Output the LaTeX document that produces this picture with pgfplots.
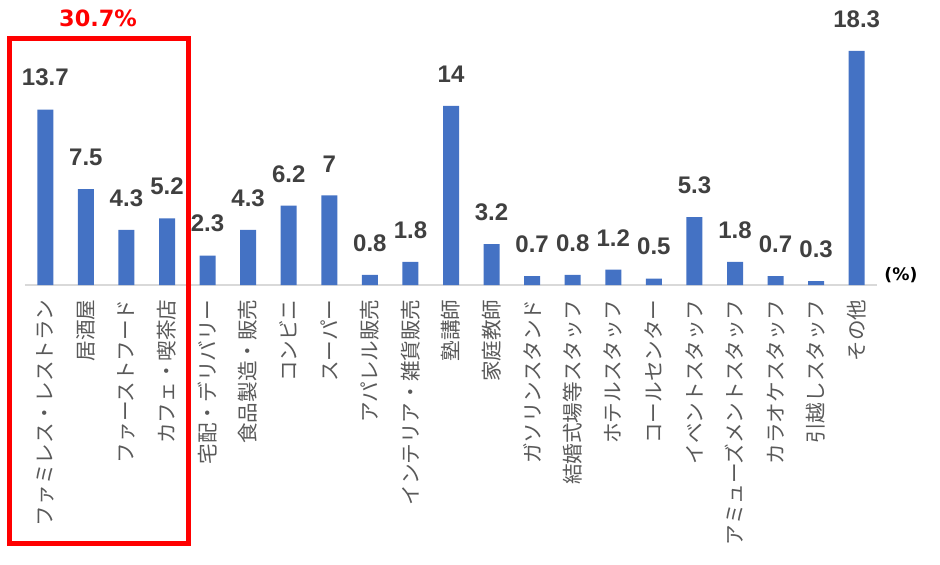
\documentclass[border=0pt]{standalone}
\usepackage{pgfplots}
\pgfplotsset{compat=1.18}
\usepackage{fontspec}
\setmainfont{Liberation Sans}
\newfontfamily\dvs{DejaVu Sans}
\newfontfamily\cjk{Noto Sans CJK JP}
\definecolor{barblue}{HTML}{4472C4}
\definecolor{valgray}{HTML}{404040}
\definecolor{labgray}{HTML}{595959}
\definecolor{linegray}{HTML}{D9D9D9}
\begin{document}
\begin{tikzpicture}
\begin{axis}[
  scale only axis,
  width=426pt, height=128pt,
  xmin=-0.5, xmax=20.5, ymin=0, ymax=20,
  axis x line*=bottom, axis y line=none,
  x axis line style={draw=linegray, line width=0.8pt, -},
  xtick=data, major tick length=0pt, ytick=\empty,
  xticklabels={
    ファミレス・レストラン, 居酒屋, ファーストフード, カフェ・喫茶店,
    宅配・デリバリー, 食品製造・販売, コンビニ, スーパー,
    アパレル販売, インテリア・雑貨販売, 塾講師, 家庭教師,
    ガソリンスタンド, 結婚式場等スタッフ, ホテルスタッフ, コールセンター,
    イベントスタッフ, アミューズメントスタッフ, カラオケスタッフ, 引越しスタッフ,
    その他},
  xticklabel style={rotate=90, anchor=east, inner xsep=7pt, inner ysep=0pt,
    font=\cjk\fontsize{10.3}{11}\selectfont, text=labgray},
  clip=false,
  /pgf/number format/assume math mode=true,
  nodes near coords,
  nodes near coords style={font=\bfseries\fontsize{12}{13}\selectfont,
    text=valgray, anchor=south, inner sep=0pt, yshift=11.5pt},
]
\addplot[ybar, bar width=8pt, fill=barblue, draw=none] coordinates {
  (0,13.7) (1,7.5) (2,4.3) (3,5.2) (4,2.3) (5,4.3) (6,6.2) (7,7)
  (8,0.8) (9,1.8) (10,14) (11,3.2) (12,0.7) (13,0.8) (14,1.2) (15,0.5)
  (16,5.3) (17,1.8) (18,0.7) (19,0.3) (20,18.3)
};
\draw[red, line width=2.5pt] (axis cs:-0.882,19.26) rectangle (axis cs:3.53,-20.16);
\node[text=red, font=\dvs\bfseries\fontsize{11.2}{12}\selectfont] at (axis cs:1.30,20.86) {30.7\%};
\node[font=\dvs\bfseries\fontsize{8.6}{9}\selectfont] at (axis cs:21.09,0.78) {(\%)};
\coordinate (bl) at (rel axis cs:-0.02934,-1.08984);
\coordinate (tr) at (rel axis cs:1.07394,1.11328);
\end{axis}
\path[use as bounding box] (bl) rectangle (tr);
\end{tikzpicture}
\end{document}
